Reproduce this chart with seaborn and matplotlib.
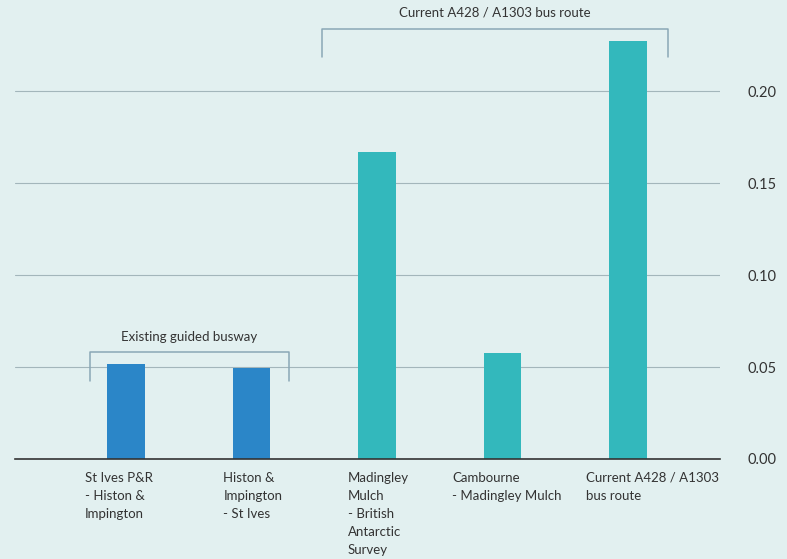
import matplotlib
matplotlib.use("Agg")
import matplotlib.pyplot as plt
import seaborn as sns
import pandas as pd

categories = [
    "St Ives P&R\n- Histon &\nImpington",
    "Histon &\nImpington\n- St Ives",
    "Madingley\nMulch\n- British\nAntarctic\nSurvey",
    "Cambourne\n- Madingley Mulch",
    "Current A428 / A1303\nbus route",
]
values = [0.0516, 0.0497, 0.1668, 0.0576, 0.2272]
groups = ["busway", "busway", "current", "current", "current"]
palette = {"busway": "#2b86c8", "current": "#33b8bc"}
yticks = [0.00, 0.05, 0.10, 0.15, 0.20]
ytick_labels = ["0.00", "0.05", "0.10", "0.15", "0.20"]

bg = "#e2f0f0"
sns.set_theme(style="white")
plt.rcParams["font.family"] = ["Lato", "DejaVu Sans"]

df = pd.DataFrame({"cat": categories, "val": values, "grp": groups})

fig = plt.figure(figsize=(7.87, 5.59), dpi=100, facecolor=bg)
ax = fig.add_axes([15 / 787, 100 / 559, 705 / 787, 459 / 559])
ax.set_facecolor(bg)

sns.barplot(data=df, x="cat", y="val", hue="grp", palette=palette,
            width=0.3, dodge=False, legend=False, ax=ax, zorder=3,
            saturation=1, linewidth=0, edgecolor="none")

ax.set_xlim(-0.884, 4.733)
ax.set_ylim(0, 0.2495)
for s in ["top", "left", "right"]:
    ax.spines[s].set_visible(False)
ax.spines["bottom"].set_color("#333333")
ax.spines["bottom"].set_linewidth(1.2)
ax.spines["bottom"].set_zorder(4)

ax.yaxis.tick_right()
ax.set_yticks(yticks)
ax.set_yticklabels(ytick_labels)
ax.tick_params(axis="y", length=0, pad=20, labelsize=10.5, labelcolor="#333333")
ax.grid(axis="y", color="#a3b6bb", linewidth=0.8, zorder=0)
ax.set_xlabel("")
ax.set_ylabel("")

# x labels: left-aligned blocks
ax.set_xticks(range(len(categories)))
ax.set_xticklabels([])
ax.tick_params(axis="x", length=0)
offsets_px = [-41, -28, -29, -50, -42]
for i, (lab, off) in enumerate(zip(categories, offsets_px)):
    ax.text(i + off / 125.5, -0.0068, lab, ha="left", va="top", fontsize=9.5,
            color="#333333", linespacing=1.6, clip_on=False)

# brackets
br_col = "#8aa7b6"
def bracket(x0, x1, ytop, ybot, text, ytext):
    ax.plot([x0, x0, x1, x1], [ybot, ytop, ytop, ybot], color=br_col, lw=1.1,
            clip_on=False, zorder=5)
    ax.text((x0 + x1) / 2, ytext, text, ha="center", va="center", fontsize=9.5,
            color="#333333", clip_on=False)

bracket(-0.287, 1.299, 0.0582, 0.0424, "Existing guided busway", 0.0663)
bracket(1.562, 4.319, 0.2337, 0.2185, "Current A428 / A1303 bus route", 0.2429)

fig.savefig("out.png", dpi=100, facecolor=bg)
